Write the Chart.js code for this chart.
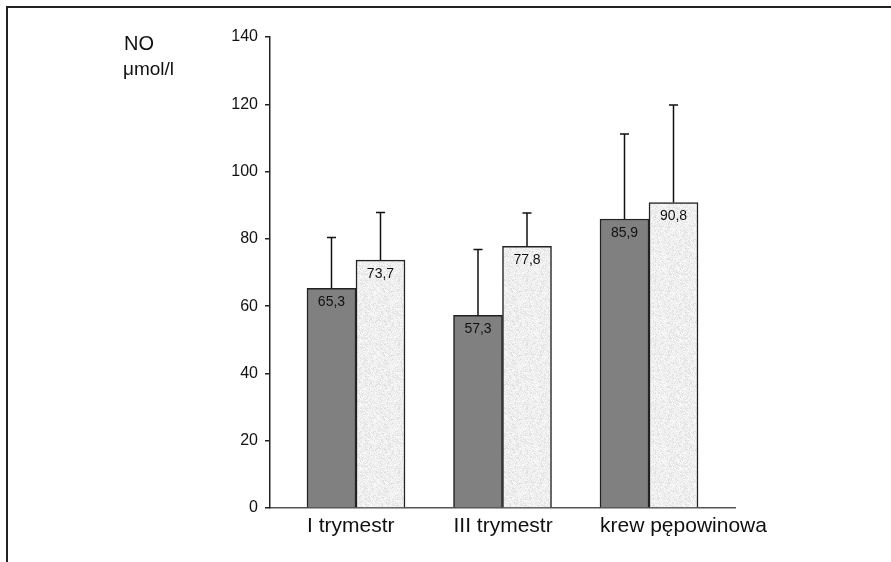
<!DOCTYPE html>
<html lang="pl">
<head>
    <meta charset="UTF-8">
    <title>NO</title>
    <script src="https://cdn.jsdelivr.net/npm/chart.js"></script>
    <style>
        body { margin: 0; background: #fff; }
        #frame {
            position: absolute; left: 6px; top: 6px; width: 885px; height: 556px;
            border-top: 2px solid #222; border-left: 2px solid #222;
        }
        #wrap { position: absolute; left: 0; top: 0; width: 891px; height: 562px; }
    </style>
</head>
<body>
    <div id="frame"></div>
    <div id="wrap"><canvas id="noChart" width="891" height="562"></canvas></div>
    <script>
        const categories = ['I trymestr', 'III trymestr', 'krew pępowinowa'];
        const seriesDark = [65.3, 57.3, 85.9];
        const seriesLight = [73.7, 77.8, 90.8];
        const errorDark = [80.4, 76.8, 111.2];
        const errorLight = [87.8, 87.7, 119.8];
        const yTicks = [0, 20, 40, 60, 80, 100, 120, 140];
        const unitLines = ['NO', 'μmol/l'];

        // speckled light fill (fixed hash, same every run)
        function speckle() {
            const n = 64;
            const c = document.createElement('canvas');
            c.width = n; c.height = n;
            const g = c.getContext('2d');
            const img = g.createImageData(n, n);
            for (let y = 0; y < n; y++) {
                for (let x = 0; x < n; x++) {
                    let h = (x * 374761393 + y * 668265263) | 0;
                    h = Math.imul(h ^ (h >>> 13), 1274126177);
                    h = (h ^ (h >>> 16)) >>> 0;
                    const t = (h % 1000) / 1000;
                    let v = 240;
                    if (t < 0.12) v = 222;
                    else if (t < 0.3) v = 231;
                    else if (t > 0.75) v = 248;
                    const k = (y * n + x) * 4;
                    img.data[k] = img.data[k + 1] = img.data[k + 2] = v;
                    img.data[k + 3] = 255;
                }
            }
            g.putImageData(img, 0, 0);
            return g.createPattern(c, 'repeat');
        }

        const fmt = v => v.toFixed(1).replace('.', ',');

        const extras = {
            id: 'extras',
            afterDatasetsDraw(chart) {
                const ctx = chart.ctx;
                const y = chart.scales.y;
                const errs = [errorDark, errorLight];
                ctx.save();
                chart.data.datasets.forEach((ds, di) => {
                    chart.getDatasetMeta(di).data.forEach((bar, i) => {
                        const top = y.getPixelForValue(errs[di][i]);
                        ctx.strokeStyle = '#111';
                        ctx.lineWidth = 1.5;
                        ctx.beginPath();
                        ctx.moveTo(bar.x, bar.y);
                        ctx.lineTo(bar.x, top);
                        ctx.moveTo(bar.x - 4.5, top);
                        ctx.lineTo(bar.x + 4.5, top);
                        ctx.stroke();
                        ctx.fillStyle = '#111';
                        ctx.font = '14px "Liberation Sans", Arial, sans-serif';
                        ctx.textAlign = 'center';
                        ctx.textBaseline = 'middle';
                        ctx.fillText(fmt(ds.data[i].y), bar.x, bar.y + 14);
                    });
                });
                ctx.font = '20px "Liberation Sans", Arial, sans-serif';
                ctx.textAlign = 'left';
                ctx.fillText(unitLines[0], 124, 44);
                ctx.font = '19px "Liberation Sans", Arial, sans-serif';
                ctx.fillText(unitLines[1], 123, 70);
                ctx.restore();
            }
        };

        const light = speckle();
        const ctx = document.getElementById('noChart').getContext('2d');
        const noChart = new Chart(ctx, {
            type: 'bar',
            data: {
                datasets: [{
                    data: seriesDark.map((v, i) => ({ x: i + 1, y: v })),
                    backgroundColor: '#808080',
                    borderColor: '#222',
                    borderWidth: 1.5,
                    barThickness: 49
                }, {
                    data: seriesLight.map((v, i) => ({ x: i + 1, y: v })),
                    backgroundColor: light,
                    borderColor: '#222',
                    borderWidth: 1.5,
                    barThickness: 49
                }]
            },
            options: {
                responsive: false,
                animation: false,
                layout: { padding: { left: 0, top: 37, right: 156, bottom: 0 } },
                plugins: { legend: { display: false }, tooltip: { enabled: false } },
                scales: {
                    x: {
                        type: 'linear',
                        offset: false,
                        min: 0.413,
                        max: 3.587,
                        afterBuildTicks: s => { s.ticks = categories.map((c, i) => ({ value: i + 1 })); },
                        afterFit: s => { s.height = 54; },
                        grid: { display: false, drawTicks: false },
                        border: { display: true, color: '#555', width: 1.5 },
                        ticks: {
                            callback: v => categories[v - 1],
                            align: 'start',
                            labelOffset: -49,
                            padding: 6,
                            color: '#111',
                            maxRotation: 0,
                            autoSkip: false,
                            font: { family: '"Liberation Sans", Arial, sans-serif', size: 21 }
                        }
                    },
                    y: {
                        min: 0,
                        max: 140,
                        afterBuildTicks: s => { s.ticks = yTicks.map(v => ({ value: v })); },
                        afterFit: s => { s.width = 270; },
                        grid: { drawOnChartArea: false, drawTicks: true, tickLength: 5, color: '#222', lineWidth: 1.5 },
                        border: { display: true, color: '#222', width: 1.5 },
                        ticks: {
                            padding: 7,
                            color: '#111',
                            font: { family: '"Liberation Sans", Arial, sans-serif', size: 16 }
                        }
                    }
                }
            },
            plugins: [extras]
        });
    </script>
</body>
</html>
